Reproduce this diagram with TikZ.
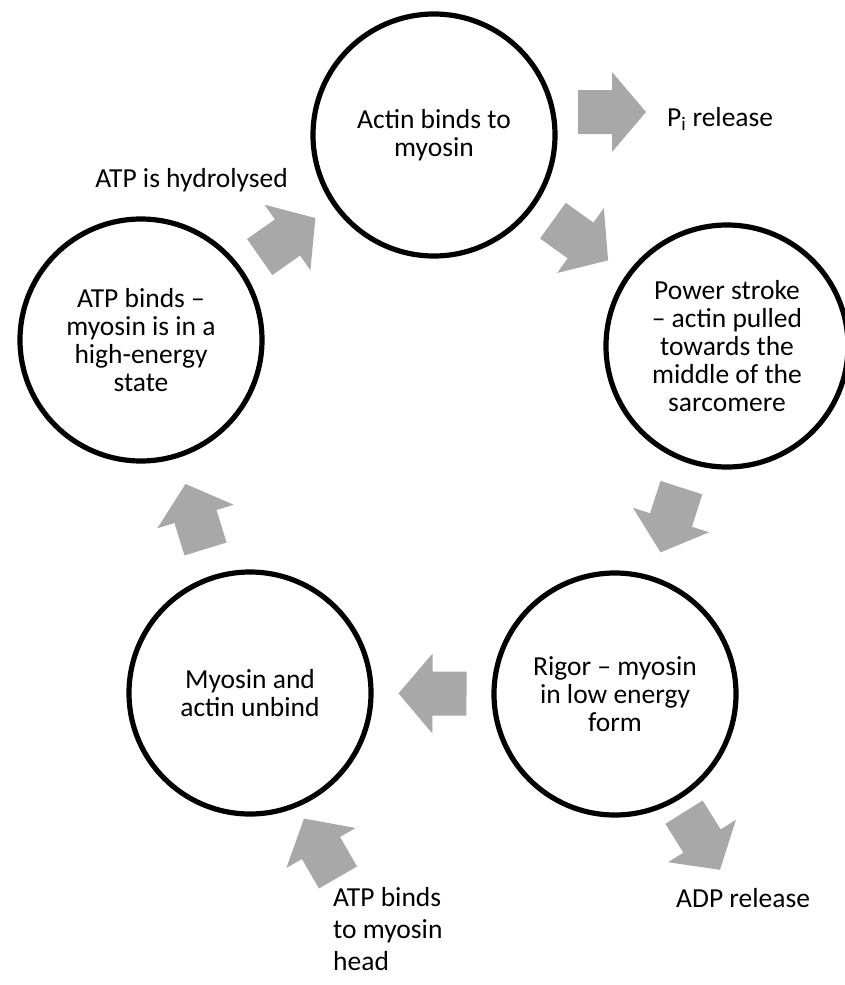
\documentclass[tikz,border=0pt]{standalone}
\usepackage{fontspec}
\setmainfont{Carlito}
\usetikzlibrary{calc}
\definecolor{arrowgray}{HTML}{A8A8A8}
\tikzset{
  stage/.style={circle, draw=black, line width=5.2pt, minimum size=242pt, inner sep=0pt,
    align=center, font=\fontsize{27.5}{28}\selectfont},
  lbl/.style={inner sep=0pt, font=\fontsize{27.5}{32}\selectfont},
  arrowfill/.style={fill=arrowgray},
}
\newcommand\cyclearrow[2]{%
  \path let \p1=($(#2)-(#1)$), \n1={atan2(\y1,\x1)} in \pgfextra{\xdef\arrang{\n1}};
  \fill[arrowfill, shift={($(#1)!0.5!(#2)$)}, rotate=\arrang]
    (-34,-22) -- (0,-22) -- (0,-40) -- (34,0) -- (0,40) -- (0,22) -- (-34,22) -- cycle;}
\newcommand\freearrow[2]{%
  \fill[arrowfill, shift={(#1)}, rotate=#2]
    (-34,-22) -- (0,-22) -- (0,-40) -- (34,0) -- (0,40) -- (0,22) -- (-34,22) -- cycle;}
\begin{document}
\begin{tikzpicture}[x=1pt, y=-1pt]
\useasboundingbox (0,0) rectangle (844,985);
% stages
\node[stage] (top) at (434,135) {Actin binds to\\myosin};
\node[stage] (right) at (727,346) {Power stroke\\– actin pulled\\towards the\\middle of the\\sarcomere};
\node[stage] (rigor) at (615,694) {Rigor – myosin\\in low energy\\form};
\node[stage] (unbind) at (250,693) {Myosin and\\actin unbind};
\node[stage] (atp) at (141,340) {ATP binds –\\myosin is in a\\high-energy\\state};
% cycle arrows
\cyclearrow{atp}{top}
\cyclearrow{top}{right}
\cyclearrow{right}{rigor}
\cyclearrow{rigor}{unbind}
\cyclearrow{unbind}{atp}
% side arrows
\coordinate (piA) at (612,112);
\coordinate (adpA) at (702,841);
\coordinate (atpA) at (321,848);
\freearrow{piA}{0}
\freearrow{adpA}{-58}
\freearrow{atpA}{120}
% labels
\node[lbl, anchor=base west] (pi) at (667,126) {P\textsubscript{i} release};
\node[lbl, anchor=base east] (hyd) at (288,187) {ATP is hydrolysed};
\node[lbl, anchor=base west] (adp) at (676,907) {ADP release};
\node[lbl, align=left, anchor=north west] (atpb) at (333,887) {ATP binds\\to myosin\\head};
\end{tikzpicture}
\end{document}
